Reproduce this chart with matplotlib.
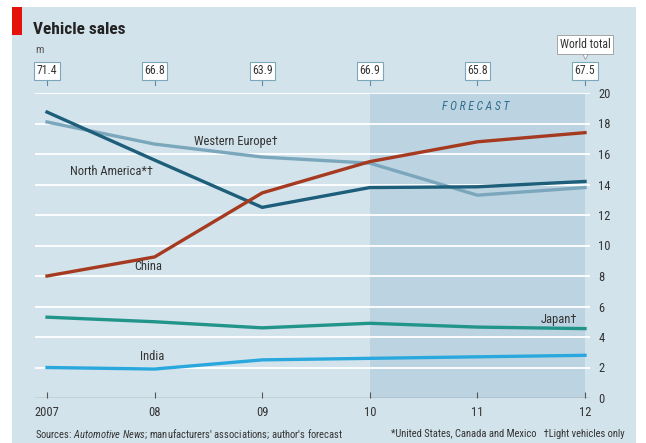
import matplotlib
matplotlib.use("Agg")
import matplotlib.pyplot as plt
from matplotlib import font_manager

names = {f.name for f in font_manager.fontManager.ttflist}
font = "DejaVu Sans"
for cand in ["Liberation Sans Narrow", "Roboto Condensed", "Open Sans Condensed", "Lato"]:
    if cand in names:
        font = cand
        break
plt.rcParams['font.family'] = [font, 'DejaVu Sans']
plt.rcParams['mathtext.fontset'] = 'custom'
plt.rcParams['mathtext.rm'] = font
plt.rcParams['mathtext.it'] = font + ':italic'

years = [2007, 2008, 2009, 2010, 2011, 2012]
year_labels = ["2007", "08", "09", "10", "11", "12"]
world_total = ["71.4", "66.8", "63.9", "66.9", "65.8", "67.5"]

north_america = [18.75, 15.6, 12.5, 13.8, 13.85, 14.2]
western_europe = [18.1, 16.65, 15.8, 15.4, 13.3, 13.8]
china = [8.0, 9.25, 13.45, 15.5, 16.8, 17.4]
japan = [5.3, 5.0, 4.6, 4.9, 4.65, 4.55]
india = [2.0, 1.9, 2.5, 2.6, 2.7, 2.8]

W, H = 646, 443
bg = "#d3e3eb"
fig = plt.figure(figsize=(W / 100, H / 100), dpi=100)
fig.patch.set_facecolor("white")

# panel background and red tag
bgax = fig.add_axes([0, 0, 1, 1], zorder=-1)
bgax.set_xlim(0, W)
bgax.set_ylim(H, 0)
bgax.axis("off")
bgax.add_patch(plt.Rectangle((12, 7), 624, 436, color=bg, lw=0))
bgax.add_patch(plt.Rectangle((12, 7), 10, 28, color="#e3120b", lw=0))

ax = fig.add_axes([35 / W, 45 / H, (590 - 35) / W, (398 - 93) / H])
ax.set_facecolor("none")
px = (585 - 47) / 5
ax.set_xlim(2007 - 12 / px, 2012 + 5 / px)
ax.set_ylim(0, 20)

ax.axvspan(2010, 2012, color="#bcd3e1", zorder=0, lw=0)
for y in range(2, 21, 2):
    ax.axhline(y, color="white", lw=1.3, zorder=1)
ax.axhline(0, color="#555555", lw=0.9, zorder=2)

lw = 2.4
ax.plot(years, western_europe, color="#7ba7bd", lw=lw, zorder=3, clip_on=False)
ax.plot(years, north_america, color="#1d5f7a", lw=lw, zorder=4, clip_on=False)
ax.plot(years, china, color="#a63a20", lw=lw, zorder=4, clip_on=False)
ax.plot(years, japan, color="#22958b", lw=lw, zorder=4, clip_on=False)
ax.plot(years, india, color="#2aa8de", lw=lw, zorder=4, clip_on=False)

tc = "#333333"
ax.text(2008.37, 16.6, "Western Europe\u2020", fontsize=9, color=tc, zorder=5)
ax.text(2007.21, 14.6, "North America*\u2020", fontsize=9, color=tc, zorder=5)
ax.text(2007.81, 8.4, "China", fontsize=9, color=tc, zorder=5)
ax.text(2011.93, 4.9, "Japan\u2020", fontsize=9, color=tc, zorder=5, ha="right")
ax.text(2007.86, 2.5, "India", fontsize=9, color=tc, zorder=5)
ax.text(2010.98, 18.9, "F O R E C A S T", fontsize=8.5, color="#2e6e8e",
        style="italic", ha="center", zorder=5)

for s in ax.spines.values():
    s.set_visible(False)
ax.set_xticks(years)
ax.set_xticklabels(year_labels)
ax.tick_params(axis="x", direction="in", length=4, color="#555555",
               labelsize=9, labelcolor=tc, pad=6)
ax.yaxis.tick_right()
ax.set_yticks(range(0, 21, 2))
ax.tick_params(axis="y", length=0, labelsize=9, labelcolor=tc, pad=6)

# world total boxes
for x, t in zip(years, world_total):
    ax.annotate(t, xy=(x, 20), xytext=(x, 21.45), textcoords="data",
                ha="center", va="center", fontsize=8.5, color=tc,
                bbox=dict(boxstyle="square,pad=0.2", fc="white", ec="#7ba7bd", lw=0.8),
                annotation_clip=False)
    ax.plot([x, x], [20.55, 20.95], color="#5a8aa6", lw=0.8, clip_on=False)
ax.annotate("World total", xy=(2012, 22.15), xytext=(2012, 23.2),
            ha="center", va="center", fontsize=8.5, color=tc,
            bbox=dict(boxstyle="square,pad=0.25", fc="white", ec="#999999", lw=0.6),
            annotation_clip=False, zorder=6)
ax.plot([2012], [22.5], marker="v", ms=6, mfc="white", mec="#999999", mew=0.6,
        clip_on=False, zorder=5)

fig.text(33 / W, 1 - 29 / H, "Vehicle sales", fontsize=12.5, weight="bold",
         color="#222222", va="center")
fig.text(35 / W, 1 - 50 / H, "m", fontsize=8, color="#555555", va="center")

fig.text(35 / W, 1 - 434 / H, "Sources: $\\mathit{Automotive\\ News}$; manufacturers' associations; author's forecast",
         fontsize=7.6, color=tc, va="center")
fig.text(625 / W, 1 - 434 / H, "*United States, Canada and Mexico   \u2020Light vehicles only",
         fontsize=7.6, color=tc, va="center", ha="right")

fig.savefig("out.png", dpi=100, facecolor=fig.get_facecolor())
